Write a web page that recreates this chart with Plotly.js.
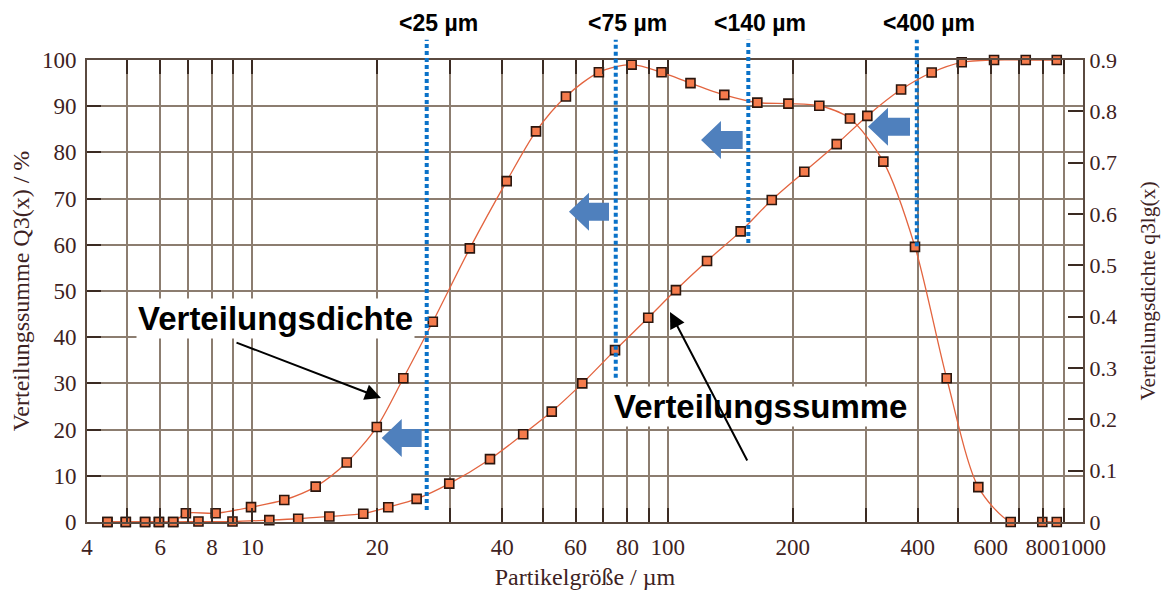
<!DOCTYPE html>
<html>
<head>
<meta charset="utf-8">
<script src="https://cdn.plot.ly/plotly-3.0.1.min.js"></script>
<style>html,body{margin:0;padding:0;background:#fff;}#chart{width:1172px;height:590px;}</style>
</head>
<body>
<div id="chart"></div>
<script>
// ---- data ----
const sumX = [4.48, 4.96, 5.52, 5.96, 6.45, 7.42, 8.96, 10.99, 12.9, 15.33, 18.5, 21.25, 24.87, 29.8, 37.35, 44.9, 52.6, 62.3, 74.7, 89.8, 104.7, 124.4, 149.9, 178.1, 213.3, 255.3, 302.5, 364.8, 432.2, 510.5, 610.7, 728, 864.6];
const sumY = [0, 0, 0, 0, 0, 0.1, 0.1, 0.4, 0.7, 1.2, 1.8, 3.2, 5.0, 8.3, 13.6, 19.0, 23.9, 30.0, 37.2, 44.2, 50.2, 56.5, 62.9, 69.7, 75.8, 81.8, 87.9, 93.6, 97.3, 99.5, 100, 100, 100];

const densX = [4.48, 4.96, 5.52, 5.96, 6.45, 6.92, 8.16, 9.93, 11.94, 14.21, 16.88, 19.94, 23.1, 27.2, 33.4, 40.97, 48.2, 56.9, 68.3, 81.9, 96.7, 113.5, 136.9, 164.4, 195.3, 231.8, 274.8, 330.6, 394, 469.7, 559.7, 669.8, 798, 864.6];
const densY = [0, 0, 0, 0, 0, 0.017, 0.017, 0.029, 0.043, 0.069, 0.116, 0.185, 0.28, 0.39, 0.533, 0.664, 0.761, 0.829, 0.876, 0.891, 0.876, 0.855, 0.832, 0.817, 0.815, 0.811, 0.786, 0.702, 0.536, 0.28, 0.068, 0, 0, 0];

const xTickVals = [4,5,6,7,8,9,10,20,30,40,50,60,70,80,90,100,200,300,400,500,600,700,800,900,1000];
const xTickText = ['4','','6','','8','','10','20','','40','','60','','80','','100','200','','400','','600','','800','','1000'];

const cutSizes = [26.3, 75, 156.4, 398];
const cutLabels = ['<25 µm', '<75 µm', '<140 µm', '<400 µm'];
const cutBottoms = [0.026, 0.312, 0.604, 0.597];

const serif = 'Liberation Serif, DejaVu Serif, serif';
const sans = 'Liberation Sans, Arial, sans-serif';
const textCol = '#3d2222';
const gridCol = '#8c7d70';
const tickCol = '#3a2a22';

const lineStyle = {color: '#e3643f', width: 1.3, shape: 'spline', smoothing: 0.8};
const markerStyle = {symbol: 'square', size: 9, color: '#f57b4c', line: {color: '#2b160e', width: 1.6}};

const traces = [
  {x: sumX, y: sumY, type: 'scatter', mode: 'lines+markers', line: lineStyle, marker: markerStyle, cliponaxis: false, yaxis: 'y', name: 'Verteilungssumme'},
  {x: densX, y: densY, type: 'scatter', mode: 'lines+markers', line: lineStyle, marker: markerStyle, cliponaxis: false, yaxis: 'y2', name: 'Verteilungsdichte'}
];

// plot-area geometry helpers (pixels -> paper)
const L = 87, R = 1083, T = 60, B = 522;
const px = p => (p - L) / (R - L);
const py = p => (B - p) / (B - T);

const shapes = [];
const annotations = [];

cutSizes.forEach((v, i) => {
  shapes.push({type: 'line', xref: 'x', yref: 'paper', x0: v, x1: v, y0: cutBottoms[i], y1: 1.044,
    line: {color: '#0a72c8', width: 4, dash: '4px,3px'}, layer: 'above'});
  annotations.push({xref: 'x', yref: 'paper', x: Math.log10(v), y: py(23), text: '<b>' + cutLabels[i] + '</b>', showarrow: false,
    xanchor: 'center', yanchor: 'middle', xshift: 12, font: {family: sans, size: 23, color: '#000'}});
});

// blue block arrows pointing left
function blockArrow(tip, right, cy) {
  const head = 20, hh = 19, sh = 9;
  const pts = [[tip, cy], [tip + head, cy - hh], [tip + head, cy - sh], [right, cy - sh], [right, cy + sh], [tip + head, cy + sh], [tip + head, cy + hh]];
  return 'M ' + pts.map(p => px(p[0]).toFixed(4) + ',' + py(p[1]).toFixed(4)).join(' L ') + ' Z';
}
[[381.7, 421.7, 438], [569, 609, 211.7], [701, 742.7, 140], [868, 910, 126.7]].forEach(a => {
  shapes.push({type: 'path', xref: 'paper', yref: 'paper', path: blockArrow(a[0], a[1], a[2]), fillcolor: '#4f80bd', line: {width: 0}, layer: 'above'});
});

annotations.push({xref: 'paper', yref: 'paper', x: px(275), y: py(318), xanchor: 'center', yanchor: 'middle', text: '<b>Verteilungsdichte</b>', showarrow: false,
  bgcolor: '#ffffff', borderpad: 1, font: {family: sans, size: 33, color: '#000'}});
annotations.push({xref: 'paper', yref: 'paper', x: px(760), y: py(406), xanchor: 'center', yanchor: 'middle', text: '<b>Verteilungssumme</b>', showarrow: false,
  bgcolor: '#ffffff', borderpad: 1, font: {family: sans, size: 33, color: '#000'}});
annotations.push({xref: 'paper', yref: 'paper', x: px(381), y: py(398), ax: 235 - 381, ay: 342 - 398, text: '', showarrow: true,
  arrowhead: 2, arrowsize: 1.6, arrowwidth: 2, arrowcolor: '#000'});
annotations.push({xref: 'paper', yref: 'paper', x: px(670), y: py(312), ax: 748 - 670, ay: 462 - 312, text: '', showarrow: true,
  arrowhead: 2, arrowsize: 1.6, arrowwidth: 2, arrowcolor: '#000'});

const layout = {
  width: 1172, height: 590,
  margin: {l: L, r: 1172 - R, t: T, b: 590 - B},
  paper_bgcolor: '#ffffff', plot_bgcolor: '#ffffff',
  showlegend: false,
  xaxis: {
    type: 'log', range: [Math.log10(4), 3], tickmode: 'array', tickvals: xTickVals, ticktext: xTickText, tickangle: 0,
    showgrid: true, gridcolor: gridCol, gridwidth: 2,
    ticks: 'inside', ticklen: 14, tickwidth: 2, tickcolor: tickCol,
    showline: true, linecolor: '#5a4a40', linewidth: 2, mirror: 'ticks', ticklabelstandoff: 3,
    tickfont: {family: serif, size: 23, color: textCol},
    title: {text: 'Partikelgröße / µm', font: {family: serif, size: 24, color: textCol}, standoff: 10}
  },
  yaxis: {
    range: [0, 100], tick0: 0, dtick: 10, showgrid: true, gridcolor: gridCol, gridwidth: 2, zeroline: false,
    ticks: 'inside', ticklen: 14, tickwidth: 2, tickcolor: tickCol,
    showline: true, linecolor: '#5a4a40', linewidth: 2, ticklabelstandoff: 4,
    tickfont: {family: serif, size: 23, color: textCol},
    title: {text: 'Verteilungssumme Q3(x) / %', font: {family: serif, size: 24, color: textCol}, standoff: 6}
  },
  yaxis2: {
    overlaying: 'y', side: 'right', range: [0, 0.9], tick0: 0, dtick: 0.1, showgrid: false, zeroline: false,
    ticks: 'inside', ticklen: 15, tickwidth: 2, tickcolor: tickCol,
    showline: true, linecolor: '#5a4a40', linewidth: 2,
    tickfont: {family: serif, size: 22, color: textCol},
    title: {text: 'Verteilungsdichte q3lg(x)', font: {family: serif, size: 21.5, color: textCol}, standoff: 24}
  },
  shapes: shapes,
  annotations: annotations
};

Plotly.newPlot('chart', traces, layout, {displayModeBar: false, staticPlot: true});
</script>
</body>
</html>
